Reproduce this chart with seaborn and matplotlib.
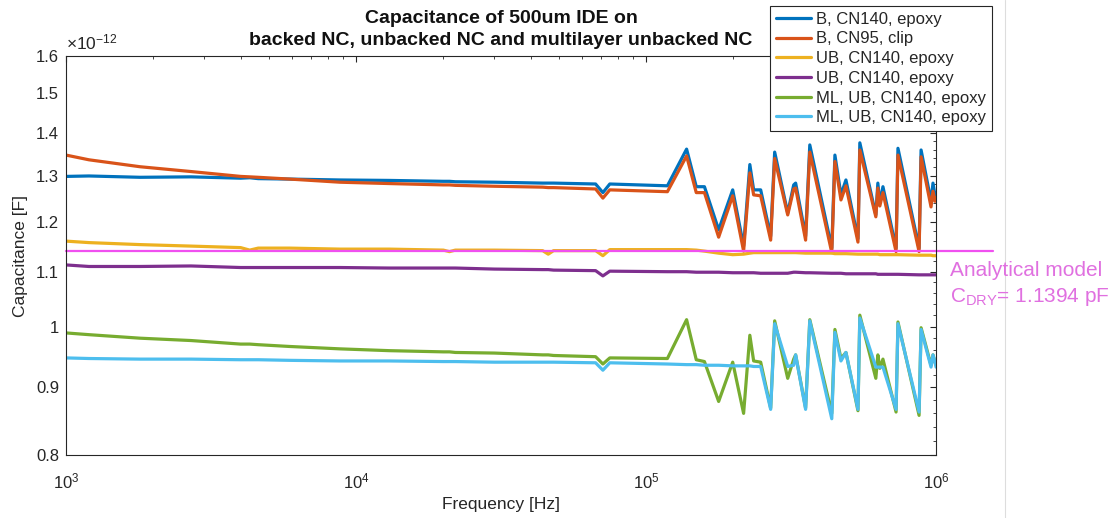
import matplotlib
matplotlib.use("Agg")
import matplotlib.pyplot as plt
import matplotlib.ticker as mticker
from matplotlib.lines import Line2D
import seaborn as sns
import numpy as np

sns.set_style("white")
plt.rcParams['font.family'] = ['Liberation Sans', 'DejaVu Sans']
plt.rcParams['mathtext.fontset'] = 'custom'
plt.rcParams['mathtext.rm'] = 'Liberation Sans'
plt.rcParams['mathtext.it'] = 'Liberation Sans:italic'

# frequency points [Hz]
freq = [1000, 1200, 1800, 2700, 4000, 4300, 4600, 5900, 8800, 13000,
        20000, 21000, 22000, 30000, 44000, 46000, 48000, 67000, 71000, 75000,
        118500, 138000, 149000, 159000, 178000, 199000, 217000, 228000, 235000, 248500,
        269000, 277700, 308000, 323000, 328000, 355000, 367000, 437000, 448000, 470000,
        489000, 538000, 546000, 620000, 630000, 640000, 656000, 728000, 739000, 874000,
        888000, 961000, 976000, 992000, 1000000]

# capacitance values [pF]
b_cn140 = [1.298, 1.299, 1.296, 1.297, 1.294, 1.295, 1.293, 1.292, 1.290, 1.289,
           1.287, 1.287, 1.286, 1.285, 1.283, 1.283, 1.283, 1.281, 1.262, 1.281,
           1.277, 1.361, 1.275, 1.275, 1.183, 1.268, 1.150, 1.325, 1.268, 1.268,
           1.170, 1.354, 1.218, 1.279, 1.283, 1.170, 1.371, 1.146, 1.347, 1.257,
           1.290, 1.165, 1.376, 1.214, 1.283, 1.239, 1.275, 1.146, 1.363, 1.146,
           1.359, 1.243, 1.283, 1.255, 1.262]
b_cn95 = [1.347, 1.336, 1.320, 1.309, 1.298, 1.297, 1.296, 1.292, 1.285, 1.282,
          1.279, 1.279, 1.278, 1.276, 1.274, 1.273, 1.273, 1.270, 1.250, 1.268,
          1.264, 1.345, 1.262, 1.262, 1.168, 1.255, 1.140, 1.306, 1.257, 1.255,
          1.162, 1.339, 1.214, 1.270, 1.272, 1.162, 1.354, 1.137, 1.332, 1.246,
          1.277, 1.158, 1.359, 1.210, 1.272, 1.233, 1.262, 1.139, 1.347, 1.139,
          1.343, 1.231, 1.265, 1.243, 1.250]
ub_cn140_a = [1.160, 1.157, 1.153, 1.150, 1.147, 1.142, 1.146, 1.146, 1.144, 1.144,
              1.142, 1.139, 1.142, 1.142, 1.141, 1.134, 1.141, 1.141, 1.131, 1.143,
              1.143, 1.143, 1.142, 1.140, 1.136, 1.133, 1.134, 1.136, 1.137, 1.137,
              1.137, 1.137, 1.137, 1.137, 1.137, 1.136, 1.136, 1.136, 1.135, 1.135,
              1.135, 1.134, 1.134, 1.134, 1.134, 1.133, 1.133, 1.133, 1.133, 1.132,
              1.132, 1.132, 1.131, 1.131, 1.131]
ub_cn140_b = [1.113, 1.110, 1.110, 1.111, 1.108, 1.108, 1.108, 1.108, 1.108, 1.107,
              1.107, 1.107, 1.107, 1.105, 1.104, 1.104, 1.103, 1.102, 1.092, 1.101,
              1.100, 1.100, 1.099, 1.099, 1.099, 1.098, 1.098, 1.098, 1.098, 1.097,
              1.097, 1.097, 1.097, 1.099, 1.099, 1.098, 1.098, 1.097, 1.097, 1.097,
              1.096, 1.096, 1.096, 1.096, 1.095, 1.095, 1.095, 1.095, 1.095, 1.094,
              1.094, 1.094, 1.094, 1.094, 1.094]
ml_ub_a = [0.989, 0.986, 0.980, 0.976, 0.970, 0.970, 0.969, 0.966, 0.962, 0.959,
           0.957, 0.957, 0.956, 0.955, 0.952, 0.952, 0.951, 0.949, 0.937, 0.947,
           0.946, 1.012, 0.944, 0.941, 0.878, 0.940, 0.860, 0.985, 0.942, 0.940,
           0.868, 1.010, 0.914, 0.945, 0.952, 0.868, 1.012, 0.860, 0.995, 0.946,
           0.956, 0.864, 1.020, 0.914, 0.952, 0.930, 0.945, 0.862, 1.008, 0.857,
           0.998, 0.935, 0.952, 0.940, 0.935]
ml_ub_b = [0.947, 0.946, 0.945, 0.945, 0.944, 0.944, 0.944, 0.943, 0.942, 0.942,
           0.941, 0.941, 0.941, 0.940, 0.940, 0.940, 0.940, 0.939, 0.927, 0.939,
           0.937, 0.936, 0.936, 0.935, 0.935, 0.934, 0.934, 0.934, 0.933, 0.933,
           0.866, 1.005, 0.933, 0.935, 0.952, 0.866, 1.010, 0.852, 0.990, 0.942,
           0.956, 0.866, 1.015, 0.932, 0.932, 0.932, 0.932, 0.866, 1.005, 0.862,
           0.995, 0.932, 0.952, 0.940, 0.932]

series = [b_cn140, b_cn95, ub_cn140_a, ub_cn140_b, ml_ub_a, ml_ub_b]
labels = ["B, CN140, epoxy", "B, CN95, clip", "UB, CN140, epoxy",
          "UB, CN140, epoxy", "ML, UB, CN140, epoxy", "ML, UB, CN140, epoxy"]
colors = ["#0072BD", "#D95319", "#EDB120", "#7E2F8E", "#77AC30", "#4DBEEE"]

c_dry = 1.1394  # pF, analytical model
yticks = [0.8, 0.9, 1.0, 1.1, 1.2, 1.3, 1.4, 1.5, 1.6]
ytick_labels = ["0.8", "0.9", "1", "1.1", "1.2", "1.3", "1.4", "1.5", "1.6"]

fig = plt.figure(figsize=(11.15, 5.18), dpi=100)
ax = fig.add_axes([0.0592, 0.1216, 0.7803, 0.7703])

for vals, lab, col in zip(series, labels, colors):
    sns.lineplot(x=freq, y=np.array(vals) * 1e-12, ax=ax, color=col, lw=2.3,
                 label=lab, estimator=None, sort=False)

# analytical model line, runs past the axes
ax.plot([0, 1.066], [c_dry * 1e-12] * 2, transform=ax.get_yaxis_transform(),
        clip_on=False, color="#F050F0", lw=1.6)

ax.set_xscale("log")
ax.set_yscale("log")
ax.set_xlim(1e3, 1e6)
ax.set_ylim(0.8e-12, 1.6e-12)
ax.yaxis.set_major_locator(mticker.FixedLocator([v * 1e-12 for v in yticks]))
ax.yaxis.set_major_formatter(mticker.FixedFormatter(ytick_labels))
ax.yaxis.set_minor_locator(mticker.FixedLocator([v * 1e-12 for v in np.arange(0.80, 1.601, 0.02)]))
ax.yaxis.set_minor_formatter(mticker.NullFormatter())
ax.xaxis.set_major_locator(mticker.LogLocator(base=10))
ax.xaxis.set_major_formatter(mticker.LogFormatterMathtext())
ax.xaxis.set_minor_locator(mticker.LogLocator(base=10, subs=np.arange(2, 10)))
ax.xaxis.set_minor_formatter(mticker.NullFormatter())

ax.tick_params(which="both", direction="in", top=True, right=True, colors="#262626", labelsize=12)
ax.tick_params(which="major", length=4, width=0.8)
ax.tick_params(which="minor", length=2.5, width=0.6)
ax.tick_params(axis="x", which="major", pad=12)
ax.tick_params(axis="y", which="major", pad=5)
for sp in ax.spines.values():
    sp.set_color("#262626")
    sp.set_linewidth(0.8)

ax.set_xlabel("Frequency [Hz]", fontsize=12.5, color="#262626", labelpad=4)
ax.set_ylabel("Capacitance [F]", fontsize=12.5, color="#262626", labelpad=6)
ax.set_title("Capacitance of 500um IDE on\nbacked NC, unbacked NC and multilayer unbacked NC",
             fontsize=14, fontweight="bold", pad=8, color="#111111", linespacing=1.4)
ax.text(0.0, 1.01, r"$\times\mathregular{10^{-12}}$", transform=ax.transAxes,
        fontsize=12.5, color="#262626", ha="left", va="bottom")

leg = ax.legend(loc="upper right", bbox_to_anchor=(992 / 1115, 1 - 6 / 518),
                bbox_transform=fig.transFigure, fancybox=False, edgecolor="#262626",
                framealpha=1, fontsize=12, handlelength=2.1, labelspacing=0.28,
                borderpad=0.35, handletextpad=0.3, borderaxespad=0)
leg.get_frame().set_linewidth(0.8)

fig.text(950 / 1115, 1 - 270 / 518, "Analytical model", color="#E070E0",
         fontsize=15, va="center", ha="left")
fig.text(950 / 1115, 1 - 297 / 518, r"C$_{\mathregular{DRY}}$= 1.1394 pF", color="#E070E0",
         fontsize=15, va="center", ha="left")

# thin grey border of the original screenshot
fig.add_artist(Line2D([1005 / 1115] * 2, [0, 1], color="#dddddd", lw=0.8))

fig.savefig("out.png", dpi=100)
